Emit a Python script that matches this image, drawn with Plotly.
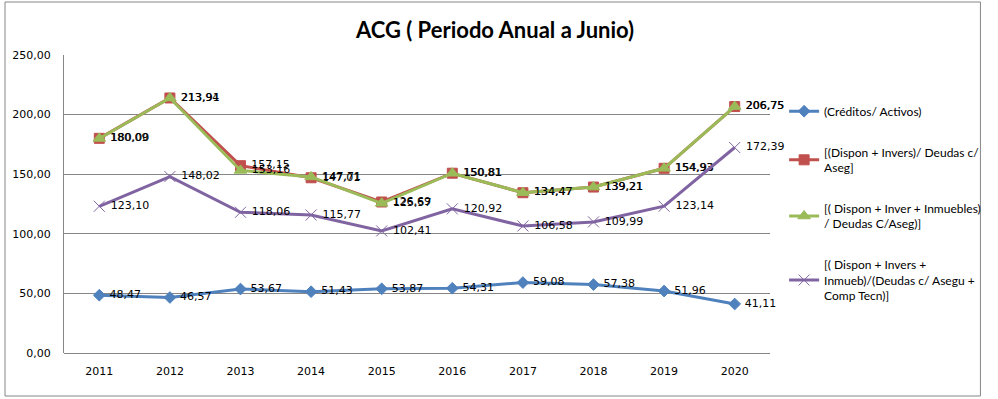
import plotly.graph_objects as go

years = ["2011", "2012", "2013", "2014", "2015", "2016", "2017", "2018", "2019", "2020"]
creditos = [48.47, 46.57, 53.67, 51.43, 53.87, 54.31, 59.08, 57.38, 51.96, 41.11]
dispon_invers = [180.09, 213.94, 157.15, 147.01, 126.69, 150.81, 134.47, 139.21, 154.93, 206.75]
dispon_inmuebles = [180.00, 213.91, 153.16, 147.71, 125.57, 150.81, 134.47, 139.21, 154.93, 206.75]
dispon_comp = [123.10, 148.02, 118.06, 115.77, 102.41, 120.92, 106.58, 109.99, 123.14, 172.39]

names = [
    "(Créditos/ Activos)",
    "[(Dispon + Invers)/ Deudas c/<br>Aseg]",
    "[( Dispon + Inver + Inmuebles)<br>/ Deudas C/Aseg)]",
    "[( Dispon + Invers +<br>Inmueb)/(Deudas c/ Asegu +<br>Comp Tecn)]",
]
colors = ["#4F81BD", "#C0504D", "#9BBB59", "#8064A2"]
symbols = ["diamond", "square", "triangle-up", "x-thin-open"]
sizes = [9, 10, 11, 11]
series = [creditos, dispon_invers, dispon_inmuebles, dispon_comp]

fig = go.Figure()
for i, (vals, nm, c, s, sz) in enumerate(zip(series, names, colors, symbols, sizes)):
    fig.add_trace(go.Scatter(
        x=years, y=vals, name=nm, mode="lines+markers+text",
        line=dict(color=c, width=3),
        marker=dict(symbol=s, size=sz, color=c, line=dict(color=c, width=1)),
        text=[" " + f"{v:.2f}".replace(".", ",") for v in vals],
        textposition="middle right",
        textfont=dict(family="DejaVu Sans", size=11, color="#000000"),
        legendgroup=f"g{i}",
        cliponaxis=False,
    ))

fig.update_layout(
    width=998, height=399,
    margin=dict(l=62, r=218, t=55, b=46),
    paper_bgcolor="white", plot_bgcolor="white",
    separators=",.",
    title=dict(text="<b>ACG ( Periodo Anual a Junio)</b>", x=0.496, xanchor="center",
               y=0.925, yanchor="middle",
               font=dict(family="Lato", size=22, color="#000000")),
    xaxis=dict(type="category", showgrid=False, showline=False, zeroline=False,
               ticks="", ticklabelstandoff=10,
               tickfont=dict(family="DejaVu Sans", size=11, color="#000000"),
               range=[-0.5, 9.5]),
    yaxis=dict(range=[0, 250], dtick=50, tickformat=".2f", showgrid=True,
               gridcolor="#868686", gridwidth=1, showline=True, linecolor="#868686",
               zeroline=True, zerolinecolor="#868686", zerolinewidth=1,
               ticks="", ticklabelstandoff=10,
               tickfont=dict(family="DejaVu Sans", size=11, color="#000000")),
    legend=dict(x=1.02, y=0.86, xanchor="left", yanchor="top",
                font=dict(family="Lato", size=12, color="#000000"),
                tracegroupgap=22, itemwidth=30, bgcolor="rgba(0,0,0,0)"),
    showlegend=True,
    shapes=[dict(type="rect", xref="paper", yref="paper",
                 x0=(2 - 62) / 718, x1=(994 - 62) / 718,
                 y0=(353 - 396) / 298, y1=(353 - 2) / 298,
                 line=dict(color="#868686", width=1), fillcolor="rgba(0,0,0,0)",
                 layer="below")],
)

fig.write_html("out.html", config={"displayModeBar": False},
               post_script="document.body.style.margin='0';")
